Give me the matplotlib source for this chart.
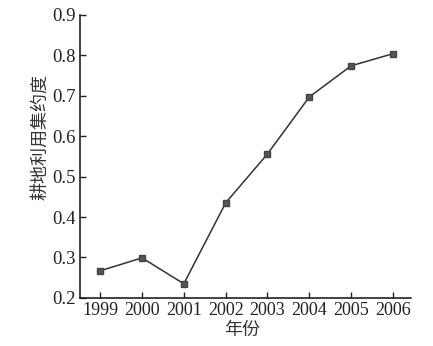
import matplotlib
matplotlib.use('Agg')
import matplotlib.pyplot as plt

# dados
anos = [1999, 2000, 2001, 2002, 2003, 2004, 2005, 2006]
intensidade = [0.267, 0.299, 0.235, 0.435, 0.556, 0.697, 0.774, 0.804]
yticks = [0.2, 0.3, 0.4, 0.5, 0.6, 0.7, 0.8, 0.9]

serif = 'Liberation Serif'
cjk = ['Noto Sans CJK SC', 'DejaVu Sans']

fig = plt.figure(figsize=(4.33, 3.46), dpi=100)
ax = fig.add_axes([0.185, 0.139, 0.764, 0.818])

ax.plot(anos, intensidade, color='#333333', linewidth=1.1, marker='s',
        markersize=4.5, markerfacecolor='#555555', markeredgecolor='#444444')

ax.set_xlim(1998.52, 2006.43)
ax.set_ylim(0.2, 0.9)
ax.set_xticks(anos)
ax.set_xticklabels([str(a) for a in anos], fontfamily=serif, fontsize=13)
ax.set_yticks(yticks)
ax.set_yticklabels(['%.1f' % v for v in yticks], fontfamily=serif, fontsize=13.5)

ax.spines['top'].set_visible(False)
ax.spines['right'].set_visible(False)
for s in ('left', 'bottom'):
    ax.spines[s].set_linewidth(1.2)
    ax.spines[s].set_color('#222222')
ax.tick_params(direction='in', length=4, width=1, colors='#222222', pad=3)

ax.set_xlabel('年份', family=cjk, fontsize=13, color='#333333')
ax.set_ylabel('耕地利用集约度', family=cjk, fontsize=13, color='#333333')
ax.xaxis.set_label_coords(0.49, -0.112, transform=ax.transAxes)
ax.yaxis.set_label_coords(-0.121, 0.569, transform=ax.transAxes)
ax.xaxis.label.set_va('center')
ax.yaxis.label.set_va('center')

fig.savefig('out.png', dpi=100)
